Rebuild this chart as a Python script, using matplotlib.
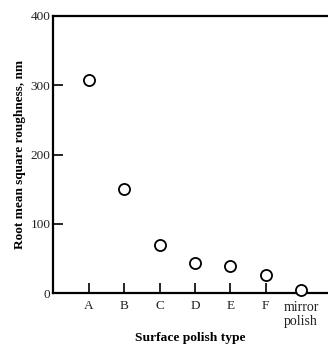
import matplotlib
matplotlib.use("Agg")
import matplotlib.pyplot as plt

categories = ["A", "B", "C", "D", "E", "F", "mirror\npolish"]
roughness = [308, 150, 70, 44, 40, 27, 5]
yticks = [0, 100, 200, 300, 400]

plt.rcParams['font.family'] = ['Liberation Serif', 'DejaVu Serif']

fig = plt.figure(figsize=(3.28, 3.47), dpi=100)
ax = fig.add_axes([53.3/328, 1 - 293.3/347, 1 - 53.3/328, 277.3/347])

x = list(range(1, len(categories) + 1))
ax.plot(x, roughness, linestyle='none', marker='o', markersize=8,
        markerfacecolor='white', markeredgecolor='black', markeredgewidth=1.3,
        clip_on=False, zorder=5)

ax.set_xlim(0, (328 - 53.3) / 35.4)
ax.set_ylim(0, 400)
ax.set_xticks(x[:-1])
ax.set_xticklabels(categories[:-1])
ax.text(x[-1], -11, categories[-1], ha='center', va='top', fontsize=10,
        color='#222222', transform=ax.transData, linespacing=1.1)
ax.set_yticks(yticks)
ax.set_yticklabels([str(v) for v in yticks])

for s in ['left', 'bottom', 'top']:
    ax.spines[s].set_linewidth(1.6)
ax.spines['right'].set_visible(False)

ax.tick_params(axis='both', direction='in', length=7, width=1.2,
               labelsize=9.5, labelcolor='#222222', pad=3)
ax.tick_params(axis='y', pad=2)
ax.tick_params(axis='x', pad=5)

ax.set_ylabel("Root mean square roughness, nm", fontsize=9.5, fontweight='bold', labelpad=3)
ax.set_xlabel("Surface polish type", fontsize=9.7, fontweight='bold', labelpad=14)

fig.savefig("out.png", dpi=100)
